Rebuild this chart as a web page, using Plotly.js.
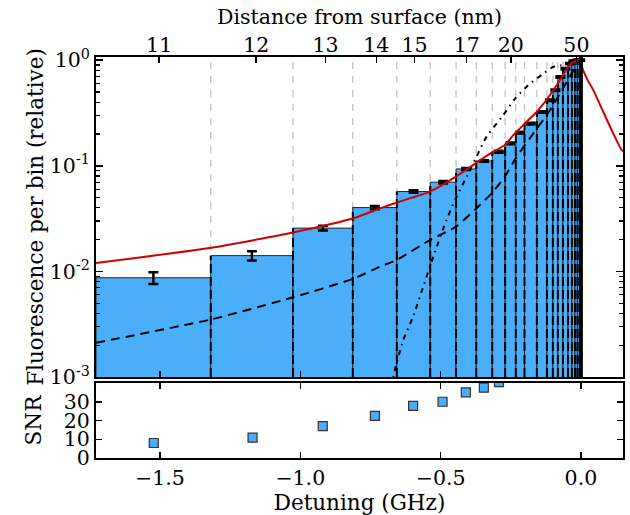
<!DOCTYPE html>
<html>
<head>
<meta charset="utf-8">
<script src="https://cdn.plot.ly/plotly-3.0.1.min.js"></script>
<style>html,body{margin:0;padding:0;background:#fff;}#chart{width:630px;height:515px;}</style>
</head>
<body>
<div id="chart"></div>
<script>
// Bin edges (detuning, GHz) and fluorescence per bin (relative)
var binEdges = [-1.728, -1.319, -1.026, -0.813, -0.656, -0.537, -0.445, -0.373, -0.316, -0.270, -0.232, -0.201, -0.157, -0.121, -0.100, -0.082, -0.064, -0.046, -0.032, -0.021, -0.0125, -0.005, 0.0];
var binFluor = [0.0086, 0.0140, 0.0256, 0.0401, 0.0569, 0.0698, 0.0933, 0.111, 0.136, 0.163, 0.206, 0.251, 0.323, 0.417, 0.519, 0.693, 0.830, 0.927, 0.977, 0.99, 1.0, 1.0];
var binErr = [0.0011, 0.0014, 0.0013, 0.0015, 0.0015, 0.0018, 0.002, 0.002, 0.003, 0.003, 0.004, 0.005, 0.006, 0.007, 0.008, 0.01, 0.012, 0.013, 0.014, 0.015, 0.015, 0.015];

// Red total line shape
var redX = [-1.728, -1.316, -1.025, -0.811, -0.716, -0.657, -0.538, -0.445, -0.372, -0.318, -0.271, -0.241, -0.200, -0.158, -0.128, -0.0987, -0.0748, -0.057, -0.0392, -0.0214, -0.006, 0.008, 0.025, 0.0438, 0.0795, 0.115, 0.145, 0.150];
var redY = [0.0120, 0.01675, 0.0234, 0.0318, 0.0395, 0.0448, 0.0569, 0.0789, 0.107, 0.133, 0.157, 0.195, 0.251, 0.323, 0.402, 0.519, 0.645, 0.773, 0.906, 0.977, 1.0, 0.80, 0.64, 0.523, 0.325, 0.203, 0.141, 0.137];

// Dashed black curve
var dashX = [-1.728, -1.316, -1.025, -0.811, -0.716, -0.657, -0.538, -0.445, -0.372, -0.318, -0.271, -0.229, -0.182, -0.110, -0.057, -0.014];
var dashY = [0.00211, 0.00352, 0.00569, 0.00853, 0.0111, 0.0128, 0.0198, 0.0265, 0.0396, 0.0550, 0.0789, 0.122, 0.182, 0.337, 0.582, 0.92];

// Dash-dot black curve
var ddX = [-0.675, -0.663, -0.633, -0.598, -0.562, -0.526, -0.479, -0.443, -0.407, -0.372, -0.336, -0.277, -0.235, -0.188, -0.134, -0.0987, -0.0688, -0.021];
var ddY = [0.0008, 0.00116, 0.00224, 0.00372, 0.00716, 0.0138, 0.0307, 0.0509, 0.0789, 0.122, 0.189, 0.301, 0.431, 0.578, 0.745, 0.863, 0.895, 1.0];

// SNR per bin
var snrX = [-1.522, -1.170, -0.920, -0.734, -0.598, -0.493, -0.410, -0.346, -0.292];
var snrY = [8.0, 10.9, 17.0, 22.5, 27.8, 30.0, 35.0, 37.5, 40.5];

// Top axis: distance from surface
var topTickPos = [-1.503, -1.157, -0.910, -0.729, -0.593, -0.407, -0.250, -0.016];
var topTickText = ['11', '12', '13', '14', '15', '17', '20', '50'];

var yTickVals = [0.001, 0.01, 0.1, 1];
var yTickText = ['10<sup>-3</sup>', '10<sup>-2</sup>', '10<sup>-1</sup>', '10<sup>0</sup>'];
var snrTicks = [0, 10, 20, 30];
var xTicks = [-1.5, -1.0, -0.5, 0.0];
var xTickText = ['\u22121.5', '\u22121.0', '\u22120.5', '0.0'];

var xRange = [-1.728, 0.150];
var barColor = '#4aaefb';

var centers = [], widths = [];
for (var i = 0; i < binFluor.length; i++) {
  centers.push((binEdges[i] + binEdges[i + 1]) / 2);
  widths.push(binEdges[i + 1] - binEdges[i]);
}
// dashed edge lines inside bars
var ex = [], ey = [];
for (var i = 1; i < binEdges.length - 1; i++) {
  var h = Math.max(binFluor[i - 1], binFluor[i]);
  ex.push(binEdges[i], binEdges[i], null);
  ey.push(0.001, h, null);
}

var shapes = [];
for (var i = 1; i < binEdges.length - 1; i++) {
  shapes.push({type: 'line', xref: 'x', yref: 'y domain', x0: binEdges[i], x1: binEdges[i], y0: 0, y1: 1,
    layer: 'below', line: {color: '#bdbdbd', width: 1.2, dash: '7px,7px'}});
}
shapes.push({type: 'line', xref: 'x', yref: 'y domain', x0: binEdges[binEdges.length - 1], x1: binEdges[binEdges.length - 1], y0: 0, y1: 1,
  layer: 'above', line: {color: '#000', width: 4}});

var traces = [
  {type: 'bar', x: centers, y: binFluor, width: widths, base: 0.0001, xaxis: 'x', yaxis: 'y',
   marker: {color: barColor, line: {color: '#222', width: 1}},
   error_y: {type: 'data', array: binErr, visible: true, color: '#000', thickness: 2.5, width: 5},
   hoverinfo: 'skip', showlegend: false},
  {type: 'scatter', mode: 'lines', x: ex, y: ey, xaxis: 'x', yaxis: 'y', connectgaps: false,
   line: {color: '#000', width: 2, dash: '9px,4px'}, hoverinfo: 'skip', showlegend: false},
  {type: 'scatter', mode: 'lines', x: dashX, y: dashY, xaxis: 'x', yaxis: 'y', line: {color: '#000', width: 2, dash: '9px,6px', shape: 'spline', smoothing: 0.6}, showlegend: false},
  {type: 'scatter', mode: 'lines', x: ddX, y: ddY, xaxis: 'x', yaxis: 'y', line: {color: '#000', width: 2, dash: '5px,5px,1.5px,5px', shape: 'spline', smoothing: 0.6}, showlegend: false},
  {type: 'scatter', mode: 'lines', x: redX, y: redY, xaxis: 'x', yaxis: 'y', line: {color: '#d00000', width: 2, shape: 'spline', smoothing: 0.5}, showlegend: false},
  {type: 'scatter', mode: 'markers', x: [], y: [], xaxis: 'x2', yaxis: 'y', showlegend: false},
  {type: 'scatter', mode: 'markers', x: snrX, y: snrY, xaxis: 'x3', yaxis: 'y3', cliponaxis: true,
   marker: {symbol: 'square', size: 9, color: barColor, line: {color: '#333', width: 1.2}}, showlegend: false}
];

var tfont = {family: 'DejaVu Serif', size: 20.5, color: '#000'};
var lfont = {family: 'DejaVu Serif', size: 21.5, color: '#000'};
var layout = {
  width: 630, height: 515,
  margin: {l: 96, r: 7, t: 57, b: 57},
  paper_bgcolor: '#fff', plot_bgcolor: '#fff',
  font: tfont,
  bargap: 0,
  showlegend: false,
  xaxis: {domain: [0, 1], anchor: 'y', range: xRange, showgrid: false, zeroline: false,
    showline: true, linecolor: '#000', linewidth: 2, mirror: true,
    tickvals: xTicks, ticks: 'inside', ticklen: 6, tickwidth: 1.5, tickcolor: '#000', showticklabels: false},
  xaxis2: {overlaying: 'x', side: 'top', anchor: 'y', range: xRange, showgrid: false, zeroline: false,
    tickvals: topTickPos, ticktext: topTickText, ticks: 'inside', ticklen: 6, tickwidth: 1.5, tickcolor: '#000',
    tickfont: tfont, title: {text: 'Distance from surface (nm)', font: {family: 'DejaVu Serif', size: 20.5, color: '#000'}, standoff: 2}},
  yaxis: {domain: [0.202, 1], anchor: 'x', type: 'log', range: [-3, 0.03], showgrid: false, zeroline: false,
    showline: true, linecolor: '#000', linewidth: 2, mirror: 'ticks',
    tickvals: yTickVals, ticktext: yTickText, ticks: 'inside', ticklen: 7, tickwidth: 1.5, tickcolor: '#000',
    minor: {ticks: 'inside', ticklen: 4, tickwidth: 1.2, tickcolor: '#000', dtick: 'D1', showgrid: false},
    tickfont: tfont, title: {text: 'Fluorescence per bin (relative)', font: lfont, standoff: 0}},
  xaxis3: {domain: [0, 1], anchor: 'y3', range: xRange, showgrid: false, zeroline: false,
    showline: true, linecolor: '#000', linewidth: 2, mirror: 'ticks',
    tickvals: xTicks, ticktext: xTickText, ticks: 'inside', ticklen: 6, tickwidth: 1.5, tickcolor: '#000',
    tickfont: tfont, title: {text: 'Detuning (GHz)', font: lfont, standoff: 2}},
  yaxis3: {domain: [0, 0.187], anchor: 'x3', range: [0, 40], showgrid: false, zeroline: false,
    showline: true, linecolor: '#000', linewidth: 2, mirror: 'ticks',
    tickvals: snrTicks, ticks: 'inside', ticklen: 6, tickwidth: 1.5, tickcolor: '#000',
    tickfont: tfont, title: {text: 'SNR', font: lfont, standoff: 16}},
  shapes: shapes
};

Plotly.newPlot('chart', traces, layout, {staticPlot: true, displayModeBar: false});
</script>
</body>
</html>
